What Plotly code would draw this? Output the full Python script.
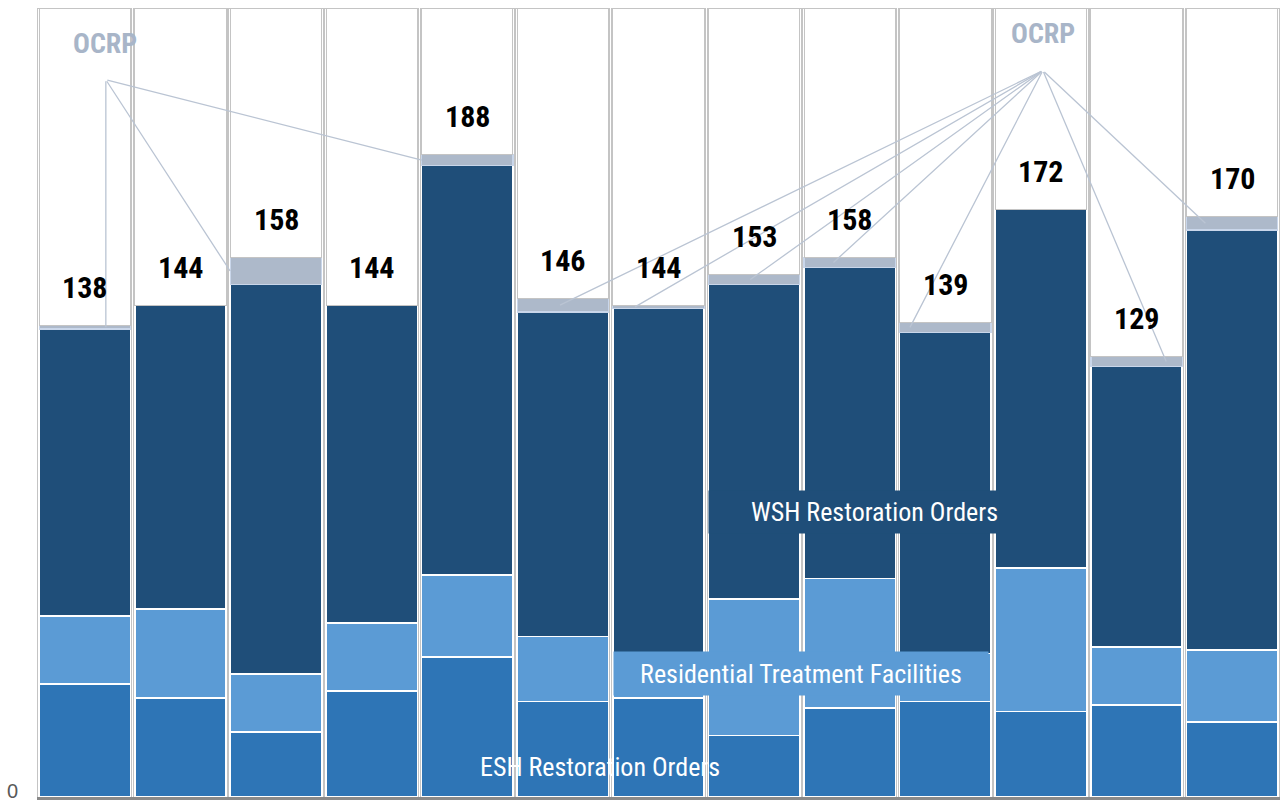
import plotly.graph_objects as go

# ---- data ----
categories = ["P1", "P2", "P3", "P4", "P5", "P6", "P7", "P8", "P9", "P10", "P11", "P12", "P13"]
esh_orders = [33, 29, 19, 31, 41, 28, 29, 18, 26, 28, 25, 27, 22]
residential = [20, 26, 17, 20, 24, 19, 13, 40, 38, 14, 42, 17, 21]
wsh_orders = [84, 89, 114, 93, 120, 95, 101, 92, 91, 94, 105, 82, 123]
ocrp = [1, 0, 8, 0, 3, 4, 1, 3, 3, 3, 0, 3, 4]
cap_value = 231  # height of the white frame boxes
y_tick_label = "0"

totals = [a + b + c + d for a, b, c, d in zip(esh_orders, residential, wsh_orders, ocrp)]
remainder = [cap_value - t for t in totals]
n = len(categories)

# OCRP leader lines: (bar index, offset within bar)
left_links = [(0, 0.22), (2, -0.48), (4, -0.475)]
right_links = [(5, -0.03), (6, -0.245), (7, -0.04), (8, -0.17), (9, -0.37), (11, 0.31), (12, -0.28)]

C_ESH = "#2E75B6"
C_RES = "#5B9BD5"
C_WSH = "#1F4E79"
C_OCRP = "#ADB9CA"
FRAME = "#C4C4C4"
NARROW = "Liberation Sans Narrow, Arial Narrow, Roboto Condensed, sans-serif"

fig = go.Figure()

# background frame bars
fig.add_trace(go.Bar(x=categories, y=[cap_value] * n, width=0.985,
                     marker=dict(color="white", line=dict(color=FRAME, width=1)),
                     hoverinfo="skip", showlegend=False, xaxis="x", yaxis="y"))

stack = [
    ("ESH Restoration Orders", esh_orders, C_ESH, "white", 1.6),
    ("Residential Treatment Facilities", residential, C_RES, "white", 1.6),
    ("WSH Restoration Orders", wsh_orders, C_WSH, "white", 1.6),
    ("OCRP", ocrp, C_OCRP, "#C9D6EA", 1.2),
    ("frame", remainder, "white", FRAME, 1),
]
for name, vals, col, lcol, lw in stack:
    fig.add_trace(go.Bar(x=categories, y=vals, name=name, width=0.955,
                         marker=dict(color=col, line=dict(color=lcol, width=lw)),
                         showlegend=False, xaxis="x2", yaxis="y2"))

annotations = []
# leader lines
left_anchor = (0.22, 210.0)
right_anchor = (10.02, 212.7)
for links, anchor in ((left_links, left_anchor), (right_links, right_anchor)):
    for i, off in links:
        annotations.append(dict(
            x=i + off, y=totals[i] - ocrp[i] / 2, xref="x", yref="y",
            ax=anchor[0], ay=anchor[1], axref="x", ayref="y",
            text="", showarrow=True, arrowhead=0, arrowwidth=1.3,
            arrowcolor="#BAC4D3", standoff=0, startstandoff=0))

# OCRP labels
for ax_, ay_ in ((0.21, 220.5), (10.02, 223.5)):
    annotations.append(dict(x=ax_, y=ay_, xref="x", yref="y", text="<b>OCRP</b>",
                            showarrow=False, font=dict(family=NARROW, size=28, color="#A8B5C8")))

# total labels
for i in range(n):
    annotations.append(dict(x=categories[i], y=totals[i], xref="x", yref="y",
                            text=f"<b>{totals[i]}</b>", showarrow=False, yshift=38,
                            font=dict(family=NARROW, size=30, color="black")))

# series labels
annotations.append(dict(x=8.046, y=83.5, xref="x", yref="y", text="WSH Restoration Orders",
                        showarrow=False, width=288, height=40, align="right", bgcolor=C_WSH,
                        borderpad=1, font=dict(family=NARROW, size=26, color="white")))
annotations.append(dict(x=7.49, y=36.2, xref="x", yref="y", text="Residential Treatment Facilities",
                        showarrow=False, width=372, height=41, align="center", bgcolor=C_RES,
                        borderpad=1, font=dict(family=NARROW, size=26, color="white")))
annotations.append(dict(x=5.39, y=8.7, xref="x", yref="y", text="ESH Restoration Orders",
                        showarrow=False, font=dict(family=NARROW, size=26, color="white")))

# y-axis "0" label (kept fully inside the page)
annotations.append(dict(x=0, xref="paper", y=0, yref="y", text=y_tick_label,
                        xanchor="right", yanchor="bottom", xshift=-17, yshift=-7,
                        showarrow=False,
                        font=dict(family="Liberation Sans, Arial, sans-serif", size=20, color="#595959")))

yrange = [0, 231.3]
fig.update_layout(
    width=1283, height=803,
    margin=dict(l=37, r=3, t=7, b=6, autoexpand=False),
    paper_bgcolor="white", plot_bgcolor="white",
    barmode="stack",
    showlegend=False,
    annotations=annotations,
    xaxis=dict(type="category", categoryorder="array", categoryarray=categories,
               range=[-0.5, n - 0.5], showticklabels=False, ticks="",
               showgrid=False, zeroline=False, showline=True, automargin=False,
               linecolor="#898989", linewidth=3),
    xaxis2=dict(type="category", categoryorder="array", categoryarray=categories,
                range=[-0.5, n - 0.5], overlaying="x", visible=False),
    yaxis=dict(range=yrange, showticklabels=False, ticks="",
               showgrid=False, zeroline=False, showline=False, automargin=False),
    yaxis2=dict(range=yrange, overlaying="y", visible=False),
)

fig.write_html("out.html", config={"displayModeBar": False},
               post_script="document.body.style.margin='0';")
